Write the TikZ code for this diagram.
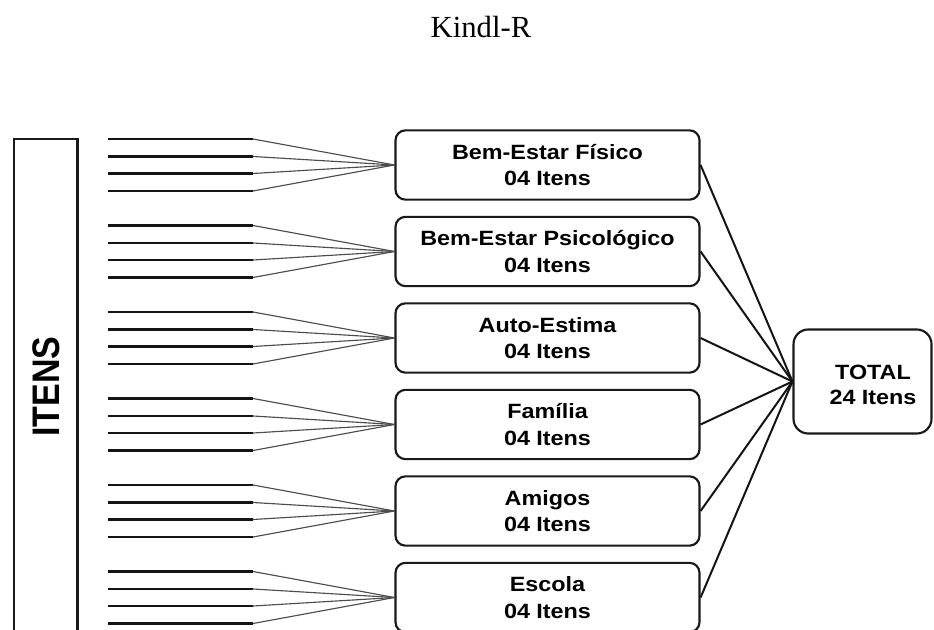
\documentclass[tikz,border=0pt]{standalone}
\usepackage{fontspec}
\setmainfont{Liberation Serif}
\newfontfamily\boxfont[FakeStretch=1.13]{Liberation Sans}
\newfontfamily\itensfont{Liberation Sans}
\begin{document}
\begin{tikzpicture}[x=0.75pt,y=-0.75pt,
  catbox/.style={draw=black!90, line width=1.6pt, rounded corners=7.5pt,
    minimum width=228pt, minimum height=52pt, inner sep=0pt, align=center,
    font=\boxfont\bfseries\fontsize{15.5}{20}\selectfont},
  totbox/.style={draw=black!90, line width=1.6pt, rounded corners=11pt,
    minimum width=103.5pt, minimum height=78pt, inner sep=0pt},
  txt/.style={align=center, inner sep=0pt,
    font=\boxfont\bfseries\fontsize{15.5}{19}\selectfont},
  frame/.style={draw=black!90, line width=1.8pt, minimum width=47.5pt,
    minimum height=450pt, inner sep=0pt, anchor=north west},
  itemline/.style={draw=black!92, line width=2pt},
  fanline/.style={draw=black!70, line width=0.85pt},
  sumline/.style={draw=black!92, line width=1.5pt}]
\clip (0,0) rectangle (934,630);
\fill[white] (0,0) rectangle (934,630);
\node[font=\fontsize{23}{27}\selectfont, anchor=base] (title) at (481,38) {Kindl-R};
\node[frame] (itens) at (13,138) {};
\node[rotate=90, inner sep=0pt, font=\itensfont\bfseries\fontsize{25.5}{30}\selectfont] (itenslabel) at (46,386.7) {\scalebox{1}[1.13]{ITENS}};
\node[totbox] (total) at (862.5,381.5) {};
\node[txt] (totaltxt) at (873,385) {TOTAL\\24 Itens};
\foreach \i/\t in {1/{Bem-Estar Físico}, 2/{Bem-Estar Psicológico}, 3/{Auto-Estima}, 4/{Família}, 5/{Amigos}, 6/{Escola}} {
  \pgfmathsetmacro\yc{165+86.5*(\i-1)}
  \node[catbox] (b\i) at (547.5,\yc) {\t\\04 Itens};
  \foreach \o [count=\j] in {-26,-8.5,8.5,26} {
    \coordinate (s\i\j) at (108,{\yc+(\o)});
    \coordinate (e\i\j) at (253,{\yc+(\o)});
    \draw[itemline] (s\i\j) -- (e\i\j);
    \draw[fanline] (e\i\j) -- (b\i.west);
  }
  \draw[sumline] (b\i.east) -- (total.west);
}
\end{tikzpicture}
\end{document}
